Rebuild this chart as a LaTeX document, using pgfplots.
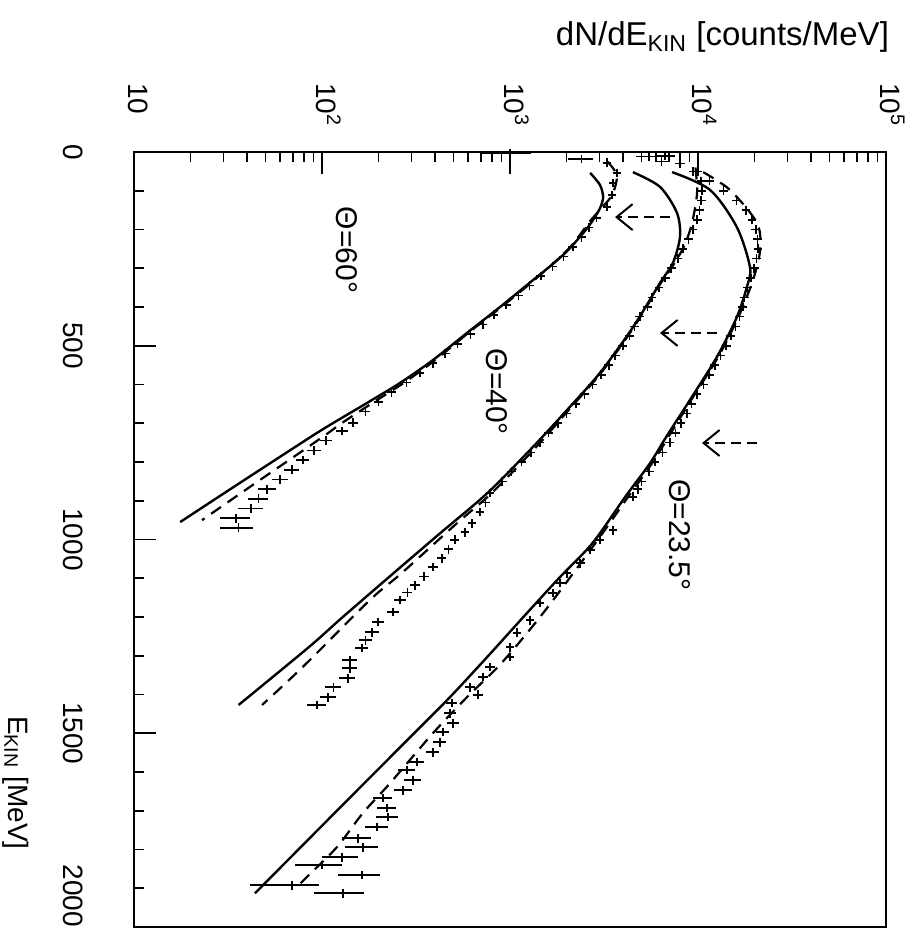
\documentclass[border=0pt]{standalone}
\usepackage{fontspec}
\setmainfont{Liberation Sans}
\usepackage{pgfplots}
\pgfplotsset{compat=1.18}
\usetikzlibrary{arrows.meta}

\begin{document}
\begin{tikzpicture}
\begin{axis}[
    scale only axis,
    width=376pt, height=387.5pt,
    xmode=log, xmin=10, xmax=100000,
    ymin=0, ymax=2000, y dir=reverse,
    axis line style={line width=1pt},
    tick align=inside,
    xtick pos=right, xticklabel pos=right,
    ytick pos=left, yticklabel pos=left,
    xtick={10,100,1000,10000,100000},
    xticklabels={10,10\textsuperscript{2},10\textsuperscript{3},10\textsuperscript{4},10\textsuperscript{5}},
    minor xtick={20,30,40,50,60,70,80,90,200,300,400,500,600,700,800,900,2000,3000,4000,5000,6000,7000,8000,9000,20000,30000,40000,50000,60000,70000,80000,90000},
    ytick={0,500,1000,1500,2000},
    yticklabels={0,500,1000,1500,\makebox[0pt][r]{2000}},
    minor y tick num=4,
    major tick length=11pt, minor tick length=5pt,
    every tick/.style={black, line width=0.8pt},
    xticklabel style={font=\fontsize{14}{14}\selectfont, yshift=38pt, rotate=-90, anchor=mid west},
    yticklabel style={font=\fontsize{14}{14}\selectfont, xshift=-22pt, rotate=-90, anchor=north},
    xlabel={dN/dE\textsubscript{KIN} [counts/MeV]},
    every axis x label/.style={at={(axis description cs:1,1)}, xshift=5pt, yshift=53pt, anchor=base east, font=\fontsize{16.5}{18}\selectfont},
    ylabel={E\textsubscript{KIN} [MeV]},
    every axis y label/.style={at={(axis description cs:0,0.186)}, xshift=-59pt, rotate=-90, anchor=center, font=\fontsize{14}{16}\selectfont},
    solid curve/.style={black, line width=1.2pt, smooth, mark=none},
    dashed curve/.style={black, line width=1.1pt, dash pattern=on 6pt off 4pt, smooth, mark=none},
    data pts/.style={black, only marks, mark=+, mark size=2.2pt, mark options={line width=0.8pt},
        error bars/.cd, x dir=both, x explicit relative, error mark=none,
        error bar style={line width=0.8pt}},
]

% Theta = 23.5 deg
\addplot[solid curve] coordinates {
    (7280,52) (11600,98) (16100,194) (18900,297) (18200,348) (16100,426)
    (12600,529) (9060,640) (6760,736) (5560,803) (4100,890) (2750,1009)
    (1820,1100) (1230,1190) (767,1300) (479,1407) (309,1500) (120,1700) (44,1913)
};
\addplot[dashed curve] coordinates {
    (10650,52) (14800,98) (20600,183) (21400,253) (19630,330) (16400,426)
    (12800,529) (9200,640) (6950,736) (5700,803) (4250,890) (2850,1009)
    (1500,1190) (900,1319) (590,1407) (389,1500) (230,1629) (165,1706)
    (120,1794) (83,1871) (76,1890)
};
\addplot[data pts] coordinates {
    (6700,10) +- (0.12,0) (8000,30) +- (0.06,0) (9400,50) +- (0.05,0)
    (11500,75) +- (0.04,0) (13700,100) +- (0.04,0) (16000,125) +- (0.04,0)
    (18000,150) +- (0.04,0) (19400,175) +- (0.04,0) (20300,200) +- (0.04,0)
    (20700,225) +- (0.04,0) (20850,250) +- (0.04,0) (20500,275) +- (0.04,0)
    (19900,300) +- (0.04,0) (19100,325) +- (0.04,0) (18300,350) +- (0.04,0)
    (17700,375) +- (0.04,0) (17300,400) +- (0.04,0) (16600,425) +- (0.04,0)
    (15850,450) +- (0.04,0) (14960,475) +- (0.04,0) (14130,500) +- (0.04,0)
    (13180,525) +- (0.04,0) (12300,550) +- (0.04,0) (11480,575) +- (0.04,0)
    (10720,600) +- (0.04,0) (9890,625) +- (0.04,0) (9230,650) +- (0.04,0)
    (8710,675) +- (0.04,0) (8130,700) +- (0.04,0) (7590,725) +- (0.04,0)
    (7080,750) +- (0.04,0) (6460,775) +- (0.04,0) (5890,800) +- (0.04,0)
    (5500,825) +- (0.04,0) (5010,850) +- (0.04,0) (4790,870) +- (0.04,0)
    (4510,890) +- (0.04,0) (3530,976) +- (0.04,0) (3010,1001) +- (0.04,0)
    (2670,1027) +- (0.04,0) (2360,1061) +- (0.04,0) (2010,1087) +- (0.04,0)
    (1850,1112) +- (0.04,0) (1690,1138) +- (0.05,0) (1445,1164) +- (0.05,0)
    (1278,1208) +- (0.05,0) (1090,1241) +- (0.05,0) (1000,1278) +- (0.05,0)
    (1000,1303) +- (0.05,0) (783,1329) +- (0.06,0) (718,1355) +- (0.06,0)
    (612,1381) +- (0.06,0) (676,1401) +- (0.06,0) (491,1422) +- (0.07,0)
    (480,1448) +- (0.07,0) (498,1474) +- (0.07,0) (441,1497) +- (0.08,0)
    (425,1523) +- (0.08,0) (389,1549) +- (0.08,0) (320,1574) +- (0.09,0)
    (283,1595) +- (0.1,0) (305,1621) +- (0.1,0) (270,1647) +- (0.11,0)
    (211,1667) +- (0.12,0) (222,1693) +- (0.12,0) (224,1716) +- (0.13,0)
    (196,1742) +- (0.14,0) (155,1771) +- (0.18,0) (165,1794) +- (0.2,0)
    (128,1820) +- (0.22,0) (100,1840) +- (0.28,0) (163,1866) +- (0.25,0)
    (69,1892) +- (0.4,0) (129,1913) +- (0.3,0)
};

% Theta = 40 deg
\addplot[solid curve] coordinates {
    (4510,52) (6280,90) (7730,157) (8020,219) (7360,286) (6280,338)
    (4510,452) (3010,570) (2010,666) (1325,761) (759,880) (427,983)
    (240,1087) (129,1200) (85,1278) (36,1427)
};
\addplot[dashed curve] coordinates {
    (9700,40) (9900,100) (9600,150) (9100,200) (8300,250) (7200,300)
    (6350,338) (4560,452) (3050,570) (2050,666) (1380,761) (800,880)
    (522,958) (265,1087) (180,1156) (79,1329) (48,1427)
};
\addplot[data pts] coordinates {
    (5500,12) +- (0.15,0) (6400,25) +- (0.08,0) (10000,50) +- (0.05,0)
    (10400,75) +- (0.04,0) (10500,100) +- (0.04,0) (10400,125) +- (0.04,0)
    (10200,150) +- (0.04,0) (9900,175) +- (0.04,0) (9400,200) +- (0.04,0)
    (8900,225) +- (0.04,0) (8300,250) +- (0.04,0) (7800,275) +- (0.04,0)
    (7200,300) +- (0.04,0) (6700,325) +- (0.04,0) (6200,350) +- (0.04,0)
    (5700,375) +- (0.04,0) (5400,400) +- (0.04,0) (4900,425) +- (0.04,0)
    (4600,450) +- (0.04,0) (4315,475) +- (0.04,0) (3980,500) +- (0.04,0)
    (3630,525) +- (0.04,0) (3350,550) +- (0.04,0) (3055,575) +- (0.04,0)
    (2750,600) +- (0.04,0) (2485,625) +- (0.04,0) (2240,650) +- (0.04,0)
    (1995,675) +- (0.04,0) (1800,700) +- (0.04,0) (1600,725) +- (0.04,0)
    (1445,750) +- (0.04,0) (1290,775) +- (0.04,0) (1150,800) +- (0.04,0)
    (1020,825) +- (0.04,0) (910,850) +- (0.04,0) (783,880) +- (0.05,0)
    (740,905) +- (0.05,0) (692,929) +- (0.05,0) (628,958) +- (0.05,0)
    (577,981) +- (0.05,0) (509,1001) +- (0.05,0) (470,1025) +- (0.05,0)
    (434,1048) +- (0.05,0) (389,1071) +- (0.06,0) (350,1095) +- (0.06,0)
    (312,1118) +- (0.06,0) (285,1137) +- (0.06,0) (260,1156) +- (0.07,0)
    (239,1187) +- (0.07,0) (199,1213) +- (0.07,0) (185,1239) +- (0.08,0)
    (170,1260) +- (0.08,0) (163,1280) +- (0.08,0) (141,1311) +- (0.09,0)
    (141,1332) +- (0.09,0) (137,1358) +- (0.1,0) (115,1381) +- (0.1,0)
    (108,1407) +- (0.1,0) (94,1427) +- (0.12,0)
};

% Theta = 60 deg
\addplot[solid curve] coordinates {
    (2670,54) (3010,85) (3130,116) (3030,142) (2830,168) (2540,200)
    (2040,253) (1680,290) (1330,330) (885,400) (590,467) (389,537)
    (260,596) (173,648) (115,699) (94,725) (68,769) (34.5,862) (17.6,955)
};
\addplot[dashed curve] coordinates {
    (3300,25) (3700,60) (3500,110) (3000,150) (2650,180) (2050,250)
    (1350,330) (900,400) (600,467) (400,537) (272,596) (185,648)
    (128,699) (108,725) (80,769) (42,862) (23,950)
};
\addplot[data pts] coordinates {
    (1000,3) +- (0.3,0) (2400,18) +- (0.15,0) (3280,28) +- (0.05,0)
    (3710,54) +- (0.05,0) (3530,80) +- (0.04,0) (3490,111) +- (0.04,0)
    (3280,142) +- (0.04,0) (2880,170) +- (0.04,0) (2630,195) +- (0.04,0)
    (2400,220) +- (0.04,0) (2160,245) +- (0.04,0) (1930,270) +- (0.04,0)
    (1680,295) +- (0.04,0) (1460,320) +- (0.04,0) (1270,345) +- (0.04,0)
    (1110,370) +- (0.04,0) (955,395) +- (0.04,0) (822,420) +- (0.04,0)
    (716,445) +- (0.04,0) (617,470) +- (0.04,0) (525,495) +- (0.04,0)
    (452,520) +- (0.04,0) (389,545) +- (0.05,0) (331,570) +- (0.05,0)
    (282,595) +- (0.05,0) (234,620) +- (0.05,0) (200,645) +- (0.06,0)
    (170,670) +- (0.06,0) (146,699) +- (0.06,0) (128,720) +- (0.07,0)
    (105,745) +- (0.07,0) (91,770) +- (0.08,0) (79,795) +- (0.08,0)
    (69,820) +- (0.09,0) (60,845) +- (0.1,0) (51,870) +- (0.11,0)
    (46,895) +- (0.12,0) (42,920) +- (0.15,0) (35,945) +- (0.18,0)
    (36,970) +- (0.2,0)
};

% dashed arrows
\draw[line width=1pt, dash pattern=on 5pt off 3pt, -{Straight Barb[length=8pt, width=13pt]}]
    (axis cs:7100,168) -- (axis cs:3620,168);
\draw[line width=1pt, dash pattern=on 5pt off 3pt, -{Straight Barb[length=8pt, width=13pt]}]
    (axis cs:12600,467) -- (axis cs:6280,467);
\draw[line width=1pt, dash pattern=on 5pt off 3pt, -{Straight Barb[length=8pt, width=13pt]}]
    (axis cs:20600,751) -- (axis cs:10500,751);

% angle labels
\node[rotate=-90, font=\fontsize{15}{15}\selectfont] at (axis cs:136,253) {Θ=60°};
\node[rotate=-90, font=\fontsize{15}{15}\selectfont] at (axis cs:853,619) {Θ=40°};
\node[rotate=-90, font=\fontsize{15}{15}\selectfont] at (axis cs:8020,988) {Θ=23.5°};
\end{axis}
\pgfresetboundingbox
\path ([shift={(-67pt,-5pt)}]current axis.south west) rectangle ([shift={(14pt,76pt)}]current axis.north east);
\end{tikzpicture}
\end{document}
